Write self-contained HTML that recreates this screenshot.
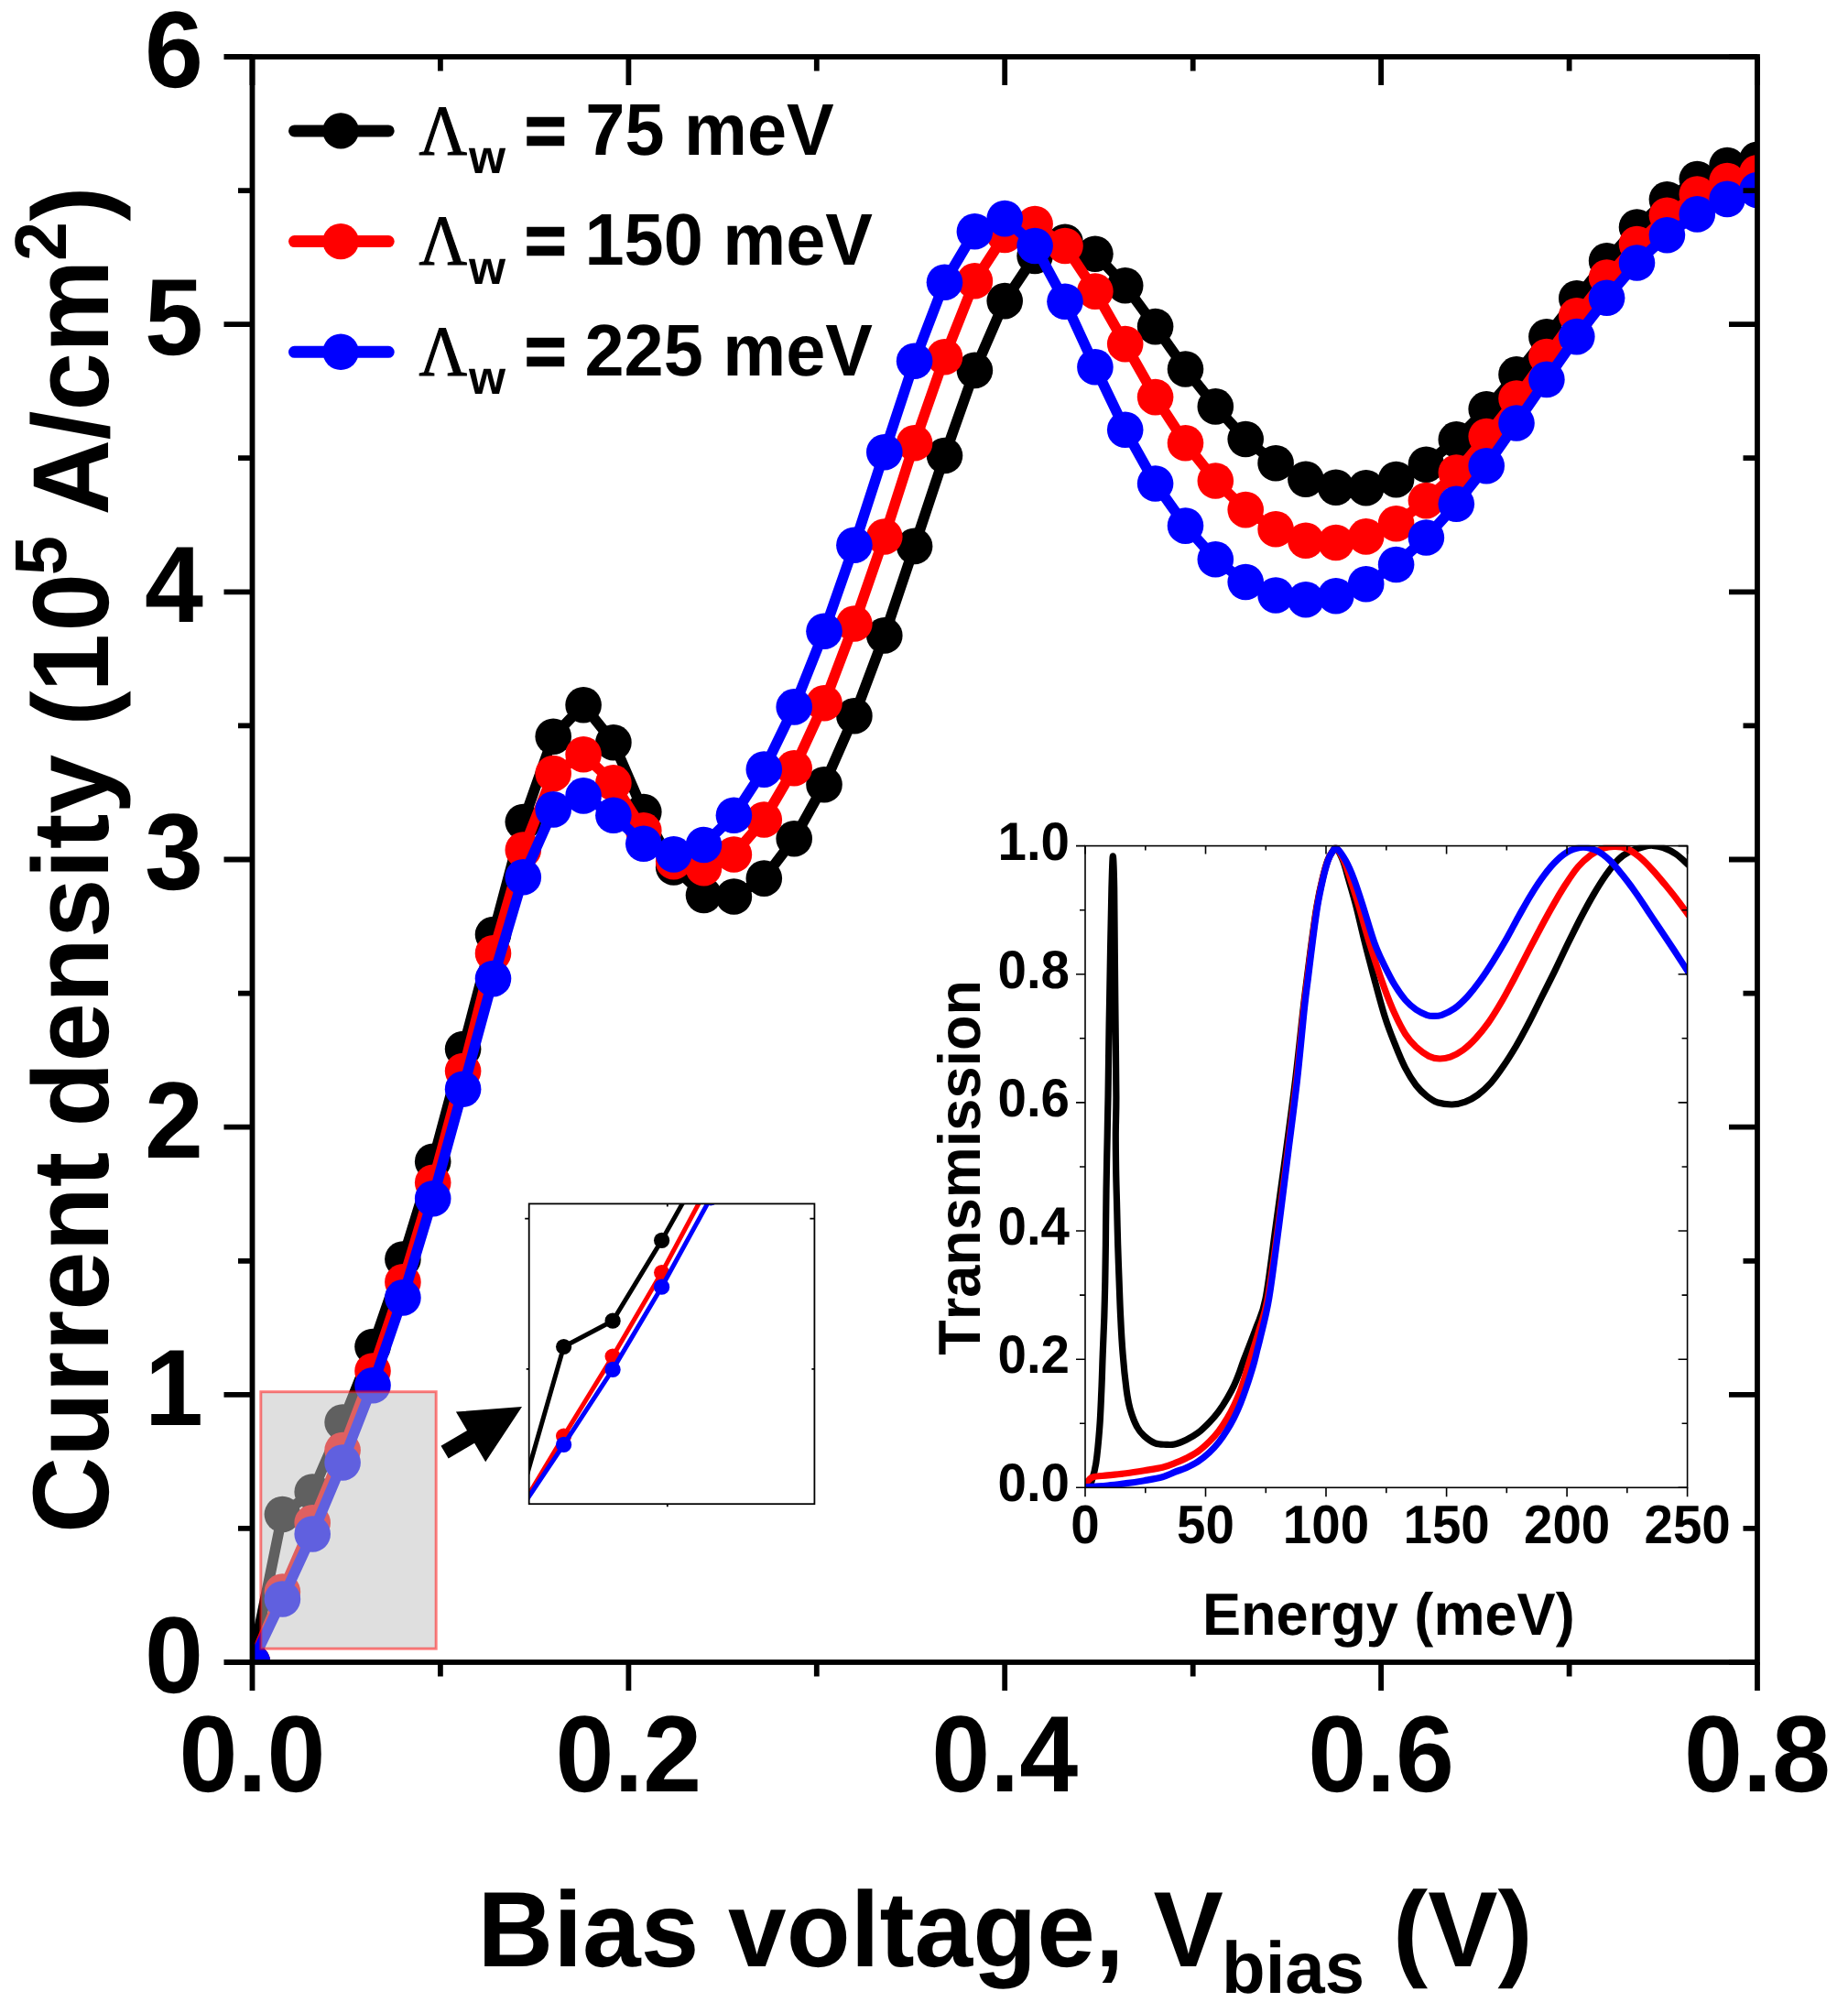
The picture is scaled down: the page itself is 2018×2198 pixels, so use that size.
<!DOCTYPE html>
<html lang="en"><head><meta charset="utf-8"><title>Current density vs bias voltage</title>
<style>html,body{margin:0;padding:0;background:#fff}svg{display:block}text{font-family:'Liberation Sans', Arial, Helvetica, sans-serif;font-weight:bold;fill:#000;font-kerning:none;text-rendering:geometricPrecision}</style>
</head><body>
<svg width="2018" height="2198" viewBox="0 0 2018 2198">
<rect width="2018" height="2198" fill="#fff"/>
<defs>
<clipPath id="cm"><rect x="275.5" y="62" width="1643.5" height="1753"/></clipPath>
<clipPath id="cs"><rect x="577.7" y="1314.4" width="311.7" height="327.8"/></clipPath>
<clipPath id="ci"><rect x="1185" y="922.8" width="657.6" height="701.5"/></clipPath>
</defs>
<g clip-path="url(#cm)">
<polyline points="275.5,1815 308.4,1653.5 341.2,1629 374.1,1553 407,1470.5 439.9,1375 472.7,1268.3 505.6,1145.5 538.5,1020.5 571.3,897.5 604.2,804.2 637.1,769.8 669.9,810.7 702.8,886.6 735.7,946.9 768.5,977.5 801.4,979 834.3,959.1 867.2,915.7 900,856.7 932.9,781.7 965.8,693.9 998.6,596.4 1031.5,497.5 1064.4,404.4 1097.2,328.6 1130.1,279.5 1163,264.2 1195.9,277.3 1228.7,311.8 1261.6,356.6 1294.5,403 1327.3,443.9 1360.2,479.5 1393.1,505.7 1425.9,523.2 1458.8,532.3 1491.7,532.8 1524.6,523.6 1557.4,507.2 1590.3,479.9 1623.2,446.7 1656,408.9 1688.9,367.7 1721.8,325.7 1754.6,284.8 1787.5,248 1820.4,217.8 1853.3,195.5 1886.1,180.6 1919,174.2" fill="none" stroke="#000000" stroke-width="11.5" stroke-linejoin="round"/>
<g fill="#000000">
<circle cx="275.5" cy="1815" r="19.8"/>
<circle cx="308.4" cy="1653.5" r="19.8"/>
<circle cx="341.2" cy="1629" r="19.8"/>
<circle cx="374.1" cy="1553" r="19.8"/>
<circle cx="407" cy="1470.5" r="19.8"/>
<circle cx="439.9" cy="1375" r="19.8"/>
<circle cx="472.7" cy="1268.3" r="19.8"/>
<circle cx="505.6" cy="1145.5" r="19.8"/>
<circle cx="538.5" cy="1020.5" r="19.8"/>
<circle cx="571.3" cy="897.5" r="19.8"/>
<circle cx="604.2" cy="804.2" r="19.8"/>
<circle cx="637.1" cy="769.8" r="19.8"/>
<circle cx="669.9" cy="810.7" r="19.8"/>
<circle cx="702.8" cy="886.6" r="19.8"/>
<circle cx="735.7" cy="946.9" r="19.8"/>
<circle cx="768.5" cy="977.5" r="19.8"/>
<circle cx="801.4" cy="979" r="19.8"/>
<circle cx="834.3" cy="959.1" r="19.8"/>
<circle cx="867.2" cy="915.7" r="19.8"/>
<circle cx="900" cy="856.7" r="19.8"/>
<circle cx="932.9" cy="781.7" r="19.8"/>
<circle cx="965.8" cy="693.9" r="19.8"/>
<circle cx="998.6" cy="596.4" r="19.8"/>
<circle cx="1031.5" cy="497.5" r="19.8"/>
<circle cx="1064.4" cy="404.4" r="19.8"/>
<circle cx="1097.2" cy="328.6" r="19.8"/>
<circle cx="1130.1" cy="279.5" r="19.8"/>
<circle cx="1163" cy="264.2" r="19.8"/>
<circle cx="1195.9" cy="277.3" r="19.8"/>
<circle cx="1228.7" cy="311.8" r="19.8"/>
<circle cx="1261.6" cy="356.6" r="19.8"/>
<circle cx="1294.5" cy="403" r="19.8"/>
<circle cx="1327.3" cy="443.9" r="19.8"/>
<circle cx="1360.2" cy="479.5" r="19.8"/>
<circle cx="1393.1" cy="505.7" r="19.8"/>
<circle cx="1425.9" cy="523.2" r="19.8"/>
<circle cx="1458.8" cy="532.3" r="19.8"/>
<circle cx="1491.7" cy="532.8" r="19.8"/>
<circle cx="1524.6" cy="523.6" r="19.8"/>
<circle cx="1557.4" cy="507.2" r="19.8"/>
<circle cx="1590.3" cy="479.9" r="19.8"/>
<circle cx="1623.2" cy="446.7" r="19.8"/>
<circle cx="1656" cy="408.9" r="19.8"/>
<circle cx="1688.9" cy="367.7" r="19.8"/>
<circle cx="1721.8" cy="325.7" r="19.8"/>
<circle cx="1754.6" cy="284.8" r="19.8"/>
<circle cx="1787.5" cy="248" r="19.8"/>
<circle cx="1820.4" cy="217.8" r="19.8"/>
<circle cx="1853.3" cy="195.5" r="19.8"/>
<circle cx="1886.1" cy="180.6" r="19.8"/>
<circle cx="1919" cy="174.2" r="19.8"/>
</g>
<polyline points="275.5,1815 308.4,1738 341.2,1662.7 374.1,1583.5 407,1497 439.9,1399.9 472.7,1291.3 505.6,1169.5 538.5,1040.9 571.3,928.1 604.2,844.6 637.1,823.8 669.9,854.9 702.8,906.9 735.7,940.8 768.5,947.8 801.4,933 834.3,895 867.2,838.8 900,767.7 932.9,681 965.8,586 998.6,483.8 1031.5,389.8 1064.4,306.8 1097.2,256.5 1130.1,244.5 1163,268.5 1195.9,318.1 1228.7,375.6 1261.6,433.6 1294.5,483.8 1327.3,525 1360.2,556.6 1393.1,577.8 1425.9,590.3 1458.8,592.5 1491.7,585.9 1524.6,571.7 1557.4,546.6 1590.3,516 1623.2,476.6 1656,435.1 1688.9,389.5 1721.8,344.7 1754.6,303 1787.5,266.6 1820.4,235.2 1853.3,212 1886.1,197.5 1919,188.7" fill="none" stroke="#ff0000" stroke-width="11.5" stroke-linejoin="round"/>
<g fill="#ff0000">
<circle cx="275.5" cy="1815" r="19.8"/>
<circle cx="308.4" cy="1738" r="19.8"/>
<circle cx="341.2" cy="1662.7" r="19.8"/>
<circle cx="374.1" cy="1583.5" r="19.8"/>
<circle cx="407" cy="1497" r="19.8"/>
<circle cx="439.9" cy="1399.9" r="19.8"/>
<circle cx="472.7" cy="1291.3" r="19.8"/>
<circle cx="505.6" cy="1169.5" r="19.8"/>
<circle cx="538.5" cy="1040.9" r="19.8"/>
<circle cx="571.3" cy="928.1" r="19.8"/>
<circle cx="604.2" cy="844.6" r="19.8"/>
<circle cx="637.1" cy="823.8" r="19.8"/>
<circle cx="669.9" cy="854.9" r="19.8"/>
<circle cx="702.8" cy="906.9" r="19.8"/>
<circle cx="735.7" cy="940.8" r="19.8"/>
<circle cx="768.5" cy="947.8" r="19.8"/>
<circle cx="801.4" cy="933" r="19.8"/>
<circle cx="834.3" cy="895" r="19.8"/>
<circle cx="867.2" cy="838.8" r="19.8"/>
<circle cx="900" cy="767.7" r="19.8"/>
<circle cx="932.9" cy="681" r="19.8"/>
<circle cx="965.8" cy="586" r="19.8"/>
<circle cx="998.6" cy="483.8" r="19.8"/>
<circle cx="1031.5" cy="389.8" r="19.8"/>
<circle cx="1064.4" cy="306.8" r="19.8"/>
<circle cx="1097.2" cy="256.5" r="19.8"/>
<circle cx="1130.1" cy="244.5" r="19.8"/>
<circle cx="1163" cy="268.5" r="19.8"/>
<circle cx="1195.9" cy="318.1" r="19.8"/>
<circle cx="1228.7" cy="375.6" r="19.8"/>
<circle cx="1261.6" cy="433.6" r="19.8"/>
<circle cx="1294.5" cy="483.8" r="19.8"/>
<circle cx="1327.3" cy="525" r="19.8"/>
<circle cx="1360.2" cy="556.6" r="19.8"/>
<circle cx="1393.1" cy="577.8" r="19.8"/>
<circle cx="1425.9" cy="590.3" r="19.8"/>
<circle cx="1458.8" cy="592.5" r="19.8"/>
<circle cx="1491.7" cy="585.9" r="19.8"/>
<circle cx="1524.6" cy="571.7" r="19.8"/>
<circle cx="1557.4" cy="546.6" r="19.8"/>
<circle cx="1590.3" cy="516" r="19.8"/>
<circle cx="1623.2" cy="476.6" r="19.8"/>
<circle cx="1656" cy="435.1" r="19.8"/>
<circle cx="1688.9" cy="389.5" r="19.8"/>
<circle cx="1721.8" cy="344.7" r="19.8"/>
<circle cx="1754.6" cy="303" r="19.8"/>
<circle cx="1787.5" cy="266.6" r="19.8"/>
<circle cx="1820.4" cy="235.2" r="19.8"/>
<circle cx="1853.3" cy="212" r="19.8"/>
<circle cx="1886.1" cy="197.5" r="19.8"/>
<circle cx="1919" cy="188.7" r="19.8"/>
</g>
<polyline points="275.5,1815 308.4,1746 341.2,1675 374.1,1597 407,1512.7 439.9,1416.9 472.7,1308.7 505.6,1189.2 538.5,1068.6 571.3,957.8 604.2,883.9 637.1,868.9 669.9,890.3 702.8,921.3 735.7,932.9 768.5,922.5 801.4,890.3 834.3,840.1 867.2,771.9 900,689.3 932.9,595.3 965.8,493.7 998.6,394.2 1031.5,308.3 1064.4,252.8 1097.2,238.6 1130.1,268.5 1163,329.3 1195.9,400.8 1228.7,469.3 1261.6,528 1294.5,574.1 1327.3,610.8 1360.2,635.5 1393.1,650 1425.9,654.8 1458.8,650.8 1491.7,637.7 1524.6,616.5 1557.4,587 1590.3,550.3 1623.2,508.7 1656,462 1688.9,414.4 1721.8,367.6 1754.6,325.3 1787.5,287 1820.4,256.7 1853.3,233.9 1886.1,217.4 1919,207.5" fill="none" stroke="#0000ff" stroke-width="11.5" stroke-linejoin="round"/>
<g fill="#0000ff">
<circle cx="275.5" cy="1815" r="19.8"/>
<circle cx="308.4" cy="1746" r="19.8"/>
<circle cx="341.2" cy="1675" r="19.8"/>
<circle cx="374.1" cy="1597" r="19.8"/>
<circle cx="407" cy="1512.7" r="19.8"/>
<circle cx="439.9" cy="1416.9" r="19.8"/>
<circle cx="472.7" cy="1308.7" r="19.8"/>
<circle cx="505.6" cy="1189.2" r="19.8"/>
<circle cx="538.5" cy="1068.6" r="19.8"/>
<circle cx="571.3" cy="957.8" r="19.8"/>
<circle cx="604.2" cy="883.9" r="19.8"/>
<circle cx="637.1" cy="868.9" r="19.8"/>
<circle cx="669.9" cy="890.3" r="19.8"/>
<circle cx="702.8" cy="921.3" r="19.8"/>
<circle cx="735.7" cy="932.9" r="19.8"/>
<circle cx="768.5" cy="922.5" r="19.8"/>
<circle cx="801.4" cy="890.3" r="19.8"/>
<circle cx="834.3" cy="840.1" r="19.8"/>
<circle cx="867.2" cy="771.9" r="19.8"/>
<circle cx="900" cy="689.3" r="19.8"/>
<circle cx="932.9" cy="595.3" r="19.8"/>
<circle cx="965.8" cy="493.7" r="19.8"/>
<circle cx="998.6" cy="394.2" r="19.8"/>
<circle cx="1031.5" cy="308.3" r="19.8"/>
<circle cx="1064.4" cy="252.8" r="19.8"/>
<circle cx="1097.2" cy="238.6" r="19.8"/>
<circle cx="1130.1" cy="268.5" r="19.8"/>
<circle cx="1163" cy="329.3" r="19.8"/>
<circle cx="1195.9" cy="400.8" r="19.8"/>
<circle cx="1228.7" cy="469.3" r="19.8"/>
<circle cx="1261.6" cy="528" r="19.8"/>
<circle cx="1294.5" cy="574.1" r="19.8"/>
<circle cx="1327.3" cy="610.8" r="19.8"/>
<circle cx="1360.2" cy="635.5" r="19.8"/>
<circle cx="1393.1" cy="650" r="19.8"/>
<circle cx="1425.9" cy="654.8" r="19.8"/>
<circle cx="1458.8" cy="650.8" r="19.8"/>
<circle cx="1491.7" cy="637.7" r="19.8"/>
<circle cx="1524.6" cy="616.5" r="19.8"/>
<circle cx="1557.4" cy="587" r="19.8"/>
<circle cx="1590.3" cy="550.3" r="19.8"/>
<circle cx="1623.2" cy="508.7" r="19.8"/>
<circle cx="1656" cy="462" r="19.8"/>
<circle cx="1688.9" cy="414.4" r="19.8"/>
<circle cx="1721.8" cy="367.6" r="19.8"/>
<circle cx="1754.6" cy="325.3" r="19.8"/>
<circle cx="1787.5" cy="287" r="19.8"/>
<circle cx="1820.4" cy="256.7" r="19.8"/>
<circle cx="1853.3" cy="233.9" r="19.8"/>
<circle cx="1886.1" cy="217.4" r="19.8"/>
<circle cx="1919" cy="207.5" r="19.8"/>
</g>
</g>
<rect x="284.8" y="1519.7" width="191.4" height="280.5" fill="rgba(192,192,192,0.5)" stroke="rgba(255,0,0,0.5)" stroke-width="3"/>
<g stroke="#000" stroke-width="5.8" fill="none" stroke-linecap="butt">
<rect x="275.5" y="62" width="1643.5" height="1753"/>
<path d="M275.5 1815 v31 M275.5 62 v31 M480.9 1815 v15.5 M480.9 62 v15.5 M686.4 1815 v31 M686.4 62 v31 M891.8 1815 v15.5 M891.8 62 v15.5 M1097.2 1815 v31 M1097.2 62 v31 M1302.7 1815 v15.5 M1302.7 62 v15.5 M1508.1 1815 v31 M1508.1 62 v31 M1713.6 1815 v15.5 M1713.6 62 v15.5 M1919 1815 v31 M1919 62 v31 M275.5 1815 h-31 M1919 1815 h-31 M275.5 1668.9 h-15.5 M1919 1668.9 h-15.5 M275.5 1522.8 h-31 M1919 1522.8 h-31 M275.5 1376.8 h-15.5 M1919 1376.8 h-15.5 M275.5 1230.7 h-31 M1919 1230.7 h-31 M275.5 1084.6 h-15.5 M1919 1084.6 h-15.5 M275.5 938.5 h-31 M1919 938.5 h-31 M275.5 792.4 h-15.5 M1919 792.4 h-15.5 M275.5 646.3 h-31 M1919 646.3 h-31 M275.5 500.2 h-15.5 M1919 500.2 h-15.5 M275.5 354.2 h-31 M1919 354.2 h-31 M275.5 208.1 h-15.5 M1919 208.1 h-15.5 M275.5 62 h-31 M1919 62 h-31"/>
</g>
<polygon points="489.7,1592.6 518.1,1575.8 530.2,1596.3 570,1535.9 497.9,1541.6 510,1562 481.5,1578.8" fill="#000"/>
<g clip-path="url(#cs)">
<polyline points="562.1,1657.1 615.6,1470.5 669.1,1442.2 722.6,1354.4 776.1,1259.1 829.6,1148.7" fill="none" stroke="#000000" stroke-width="5" stroke-linejoin="round"/>
<circle cx="615.6" cy="1470.5" r="8.6" fill="#000000"/>
<circle cx="669.1" cy="1442.2" r="8.6" fill="#000000"/>
<circle cx="722.6" cy="1354.4" r="8.6" fill="#000000"/>
<circle cx="776.1" cy="1259.1" r="8.6" fill="#000000"/>
<polyline points="562.1,1657.1 615.6,1568.1 669.1,1481.1 722.6,1389.6 776.1,1289.7 829.6,1177.5" fill="none" stroke="#ff0000" stroke-width="5" stroke-linejoin="round"/>
<circle cx="615.6" cy="1568.1" r="8.6" fill="#ff0000"/>
<circle cx="669.1" cy="1481.1" r="8.6" fill="#ff0000"/>
<circle cx="722.6" cy="1389.6" r="8.6" fill="#ff0000"/>
<circle cx="776.1" cy="1289.7" r="8.6" fill="#ff0000"/>
<polyline points="562.1,1657.1 615.6,1577.4 669.1,1495.4 722.6,1405.2 776.1,1307.8 829.6,1197.1" fill="none" stroke="#0000ff" stroke-width="5" stroke-linejoin="round"/>
<circle cx="615.6" cy="1577.4" r="8.6" fill="#0000ff"/>
<circle cx="669.1" cy="1495.4" r="8.6" fill="#0000ff"/>
<circle cx="722.6" cy="1405.2" r="8.6" fill="#0000ff"/>
<circle cx="776.1" cy="1307.8" r="8.6" fill="#0000ff"/>
</g>
<g stroke="#000" stroke-width="1.8" fill="none">
<rect x="577.7" y="1314.4" width="311.7" height="327.8"/>
<path d="M577.7 1330.6h-4.5 M577.7 1494.9h-3 M889.4 1330.6h-5 M889.4 1494.9h-3 M728.8 1642.2v3 M728.8 1314.4v3"/>
</g>
<g clip-path="url(#ci)" fill="none" stroke-width="7.2" stroke-linejoin="round" stroke-linecap="round">
<path d="M1184.9 1624C1185.6 1623.7 1187.7 1623.1 1188.9 1622C1190 1621 1190.5 1621.7 1191.9 1617.7C1193.2 1613.6 1195.3 1607.7 1196.8 1597.8C1198.3 1587.8 1199.8 1571.3 1200.8 1558C1201.8 1544.8 1202.2 1531.5 1202.8 1518.3C1203.4 1505 1203.7 1491.8 1204.2 1478.5C1204.7 1465.3 1205.3 1452 1205.8 1438.8C1206.2 1425.5 1206.5 1412.3 1206.8 1399C1207 1385.8 1207.2 1372.5 1207.4 1359.3C1207.5 1346 1207.6 1332.8 1207.8 1319.5C1207.9 1306.3 1208.1 1293 1208.4 1279.8C1208.6 1266.5 1208.9 1253.6 1209.2 1240C1209.4 1226.4 1209.6 1218.4 1210 1198.2C1210.3 1177.9 1210.7 1145.1 1211.1 1118.6C1211.6 1092.1 1212.1 1064 1212.5 1039.1C1213 1014.3 1213.5 987 1213.9 969.6C1214.4 952.2 1214.9 934.8 1215.3 934.8C1215.8 934.8 1216.4 952.2 1216.7 969.6C1217 987 1217.1 1014.3 1217.3 1039.1C1217.5 1064 1217.8 1092.1 1218.1 1118.6C1218.4 1145.1 1218.9 1177.9 1218.9 1198.2C1218.9 1218.4 1218.3 1226.4 1218.3 1240C1218.3 1253.6 1218.5 1266.5 1218.7 1279.8C1218.9 1293 1219.4 1306.3 1219.7 1319.5C1220 1332.8 1220.3 1346 1220.7 1359.3C1221.1 1372.5 1221.6 1385.8 1222.1 1399C1222.6 1412.3 1223 1425.5 1223.7 1438.8C1224.3 1452 1225 1465.3 1226.1 1478.5C1227.1 1491.8 1228.9 1508.3 1230.2 1518.3C1231.6 1528.2 1232.1 1531.5 1234 1538.2C1235.9 1544.8 1239 1553.1 1241.6 1558C1244.1 1563 1246.2 1565 1249.5 1568C1252.8 1570.9 1257.5 1574.4 1261.4 1575.9C1265.4 1577.5 1269.8 1577.1 1273.4 1577.3C1276.9 1577.5 1279 1577.8 1282.7 1577C1286.4 1576.2 1291.1 1574.3 1295.3 1572.3C1299.5 1570.2 1303.8 1567.9 1308 1564.7C1312.2 1561.5 1316.9 1556.8 1320.7 1552.9C1324.5 1549 1327.6 1545.5 1330.8 1541.1C1334 1536.7 1337.3 1531.5 1340.1 1526.7C1342.9 1521.9 1345.5 1517.2 1347.7 1512.4C1350 1507.6 1351.8 1502.8 1353.6 1498C1355.4 1493.2 1355.7 1491.6 1358.7 1483.6C1361.7 1475.6 1367.7 1460.9 1371.6 1450C1375.5 1439.1 1378.4 1436.6 1382 1418C1385.6 1399.4 1389.5 1365 1393.2 1338.5C1396.9 1312 1400.5 1285.5 1404.1 1259C1407.6 1232.5 1411.3 1206 1414.5 1179.5C1417.7 1153 1421.2 1118.4 1423.3 1100C1425.4 1081.6 1425.6 1080.8 1427.1 1069C1428.6 1057.2 1430.4 1042.5 1432.2 1029.2C1434 1016 1435.9 1001.1 1437.9 989.5C1439.9 977.9 1442.1 968 1444.1 959.7C1446.1 951.4 1447.9 944.8 1449.7 939.8C1451.5 934.8 1453.3 932.1 1454.9 929.9C1456.5 927.7 1457.5 924.8 1459.4 926.4C1461.3 928 1464.3 934.2 1466.5 939.8C1468.7 945.3 1470.1 951.4 1472.5 959.7C1474.9 968 1477.9 977.9 1480.9 989.5C1483.9 1001.1 1487.1 1016 1490.4 1029.2C1493.7 1042.5 1497.2 1055.5 1500.8 1069C1504.4 1082.5 1508.5 1098.2 1512.2 1110C1515.9 1121.8 1519.3 1130.3 1523.1 1139.7C1526.8 1149.1 1530.8 1158.9 1534.7 1166.4C1538.6 1174 1542.5 1180 1546.3 1185C1550.2 1190.1 1554.1 1193.6 1558 1196.7C1561.9 1199.8 1565 1202.1 1569.6 1203.7C1574.3 1205.2 1580.9 1206.1 1585.9 1206C1590.9 1205.9 1595.2 1204.9 1599.9 1203.2C1604.5 1201.4 1609.2 1198.9 1613.8 1195.5C1618.5 1192.1 1623.1 1187.9 1627.8 1182.7C1632.4 1177.5 1637.1 1170.9 1641.7 1164.1C1646.4 1157.3 1651 1149.9 1655.7 1142C1660.4 1134 1665 1125.3 1669.7 1116.4C1674.3 1107.5 1679 1097.8 1683.6 1088.5C1688.3 1079.2 1692.9 1070.1 1697.6 1060.6C1702.2 1051 1706.9 1041 1711.5 1031.5C1716.2 1022 1720.9 1012.5 1725.5 1003.5C1730.2 994.6 1734.8 985.9 1739.5 977.9C1744.1 970 1748.8 962.4 1753.4 955.8C1758.1 949.3 1762.7 942.9 1767.4 938.4C1772 933.9 1776.7 931.4 1781.4 929.1C1786 926.8 1791.4 925.4 1795.3 924.4C1799.2 923.5 1801.1 923.1 1804.6 923.3C1808.1 923.5 1812 924 1816.3 925.6C1820.5 927.1 1825.6 929.4 1830.2 932.6C1834.9 935.8 1841.8 942.7 1844.2 944.7" stroke="#000"/>
<path d="M1184.9 1620.6C1185.6 1619.9 1187.4 1617.4 1188.9 1616.1C1190.4 1614.7 1190.4 1613.6 1193.9 1612.7C1197.3 1611.8 1203.8 1611.6 1209.8 1610.9C1215.7 1610.2 1223 1609.6 1229.6 1608.7C1236.3 1607.9 1242.9 1606.8 1249.5 1605.7C1256.1 1604.6 1263.9 1603.5 1269.4 1602.2C1274.9 1600.8 1278.4 1599.4 1282.7 1597.7C1287 1596 1291.1 1594.3 1295.3 1592.2C1299.5 1590.1 1303.8 1588 1308 1585C1312.2 1582 1316.9 1577.7 1320.7 1574C1324.5 1570.3 1327.6 1566.8 1330.8 1562.6C1334 1558.4 1337.3 1553.4 1340.1 1548.7C1342.9 1544 1345.3 1539.4 1347.7 1534.3C1350.1 1529.2 1352.5 1523.5 1354.5 1518.3C1356.5 1513.1 1358 1508 1359.5 1503.1C1361 1498.2 1361.2 1497 1363.8 1488.7C1366.3 1480.4 1371.4 1464.8 1374.8 1453C1378.2 1441.2 1380.8 1437.1 1384.3 1418C1387.8 1398.9 1392.2 1365 1395.8 1338.5C1399.4 1312 1402.6 1285.5 1405.9 1259C1409.2 1232.5 1412.8 1206 1415.8 1179.5C1418.8 1153 1421.8 1118.4 1423.8 1100C1425.8 1081.6 1426.1 1080.8 1427.6 1069C1429.1 1057.2 1430.8 1042.5 1432.6 1029.2C1434.4 1016 1436.2 1001.1 1438.2 989.5C1440.2 977.9 1442.3 968 1444.3 959.7C1446.2 951.4 1448.1 944.8 1449.9 939.8C1451.7 934.8 1453.4 932.1 1455 929.9C1456.6 927.7 1457.4 924.8 1459.5 926.4C1461.6 928 1465 934.2 1467.5 939.8C1470 945.3 1471.8 951.4 1474.5 959.7C1477.2 968 1480.4 977.9 1483.9 989.5C1487.4 1001.1 1490.7 1014.4 1495.3 1029.2C1499.9 1044 1506.8 1065 1511.4 1078C1516.1 1091 1519.2 1098.6 1523.1 1107.1C1527 1115.6 1530.8 1123.2 1534.7 1129.2C1538.6 1135.2 1542.1 1139.2 1546.3 1143.2C1550.6 1147.1 1556 1151 1560.3 1153.2C1564.6 1155.3 1568.1 1155.8 1571.9 1156C1575.8 1156.1 1579.3 1155.6 1583.6 1154.1C1587.8 1152.5 1592.9 1150 1597.5 1146.6C1602.2 1143.3 1606.8 1138.9 1611.5 1133.8C1616.1 1128.8 1620.8 1123 1625.5 1116.4C1630.1 1109.8 1634.8 1102.2 1639.4 1094.3C1644.1 1086.3 1648.7 1077.4 1653.4 1068.7C1658 1060 1662.7 1050.9 1667.3 1041.9C1672 1033 1676.6 1023.9 1681.3 1015.2C1686 1006.5 1690.6 997.7 1695.3 989.6C1699.9 981.4 1704.6 973.5 1709.2 966.3C1713.9 959.1 1718.5 952 1723.2 946.5C1727.8 941.1 1732.5 937.2 1737.1 933.7C1741.8 930.3 1746.6 927.6 1751.1 926.1C1755.6 924.5 1759.6 924.3 1763.9 924.4C1768.2 924.5 1772.2 924.8 1776.7 926.8C1781.2 928.7 1786 932.2 1790.7 936.1C1795.3 939.9 1800 945 1804.6 950C1809.3 955.1 1813.9 960.7 1818.6 966.3C1823.2 971.9 1828.3 978.2 1832.5 983.8C1836.8 989.3 1842.2 997 1844.2 999.6" stroke="#f00"/>
<path d="M1184.9 1623.6C1189 1623.4 1202.3 1622.7 1209.8 1622C1217.2 1621.4 1223 1620.5 1229.6 1619.6C1236.3 1618.8 1242.9 1617.8 1249.5 1616.7C1256.1 1615.5 1263.9 1614.2 1269.4 1612.7C1274.9 1611.1 1278.4 1609.1 1282.7 1607.4C1287 1605.7 1291.1 1604.6 1295.3 1602.7C1299.5 1600.8 1303.8 1598.8 1308 1596C1312.2 1593.2 1316.9 1589.3 1320.7 1585.8C1324.5 1582.3 1327.6 1579 1330.8 1574.9C1334 1570.8 1337.3 1565.9 1340.1 1561.4C1342.9 1556.9 1345.3 1552.6 1347.7 1547.8C1350.1 1543 1352.4 1537.8 1354.5 1532.6C1356.6 1527.4 1358.6 1521.8 1360.4 1516.6C1362.2 1511.4 1363.9 1506.3 1365.4 1501.4C1367 1496.5 1368.4 1491.7 1369.7 1487C1371 1482.3 1371.9 1478 1373 1473.5C1374.1 1469 1374.3 1469.2 1376.4 1460C1378.5 1450.8 1382.3 1438.2 1385.7 1418C1389.1 1397.8 1393.1 1365 1396.6 1338.5C1400.1 1312 1403.3 1285.5 1406.6 1259C1409.9 1232.5 1413.5 1206 1416.5 1179.5C1419.5 1153 1422.5 1118.4 1424.5 1100C1426.5 1081.6 1426.8 1080.8 1428.3 1069C1429.8 1057.2 1431.5 1042.5 1433.2 1029.2C1434.9 1016 1436.8 1001.1 1438.7 989.5C1440.6 977.9 1442.8 968 1444.7 959.7C1446.6 951.4 1448.4 944.8 1450.1 939.8C1451.8 934.8 1453.5 932.1 1455.1 929.9C1456.7 927.7 1457.2 924.8 1459.6 926.4C1462 928 1466.4 934.2 1469.5 939.8C1472.6 945.3 1475.2 951.4 1478.4 959.7C1481.6 968 1484.7 977.9 1488.4 989.5C1492.1 1001.1 1497 1018.5 1500.8 1029.2C1504.6 1039.9 1507.7 1045.8 1511.4 1053.6C1515.2 1061.3 1519.2 1069.3 1523.1 1075.7C1527 1082.1 1530.8 1087.5 1534.7 1092C1538.6 1096.4 1542.5 1099.7 1546.3 1102.4C1550.2 1105.1 1554.9 1107.1 1558 1108.3C1561.1 1109.4 1562.2 1109.4 1565 1109.4C1567.7 1109.4 1570.4 1109.6 1574.3 1108.3C1578.1 1106.9 1583.6 1104.6 1588.2 1101.3C1592.9 1098 1597.5 1093.5 1602.2 1088.5C1606.8 1083.4 1611.5 1077.4 1616.1 1071C1620.8 1064.6 1625.5 1057.4 1630.1 1050.1C1634.8 1042.7 1639.4 1035 1644.1 1026.8C1648.7 1018.7 1653.4 1009.6 1658 1001.2C1662.7 992.9 1667.3 984.3 1672 976.8C1676.6 969.2 1681.3 962 1686 955.8C1690.6 949.6 1695.3 944 1699.9 939.6C1704.6 935.1 1709 931.5 1713.9 929.1C1718.7 926.7 1724 925.1 1729 925.1C1734 925.1 1739.3 926.7 1744.1 929.1C1749 931.5 1753.4 935.1 1758.1 939.6C1762.7 944 1767.4 950 1772 955.8C1776.7 961.7 1781.4 967.9 1786 974.5C1790.7 981.1 1795.3 988.4 1800 995.4C1804.6 1002.4 1809.3 1009.4 1813.9 1016.3C1818.6 1023.3 1822.8 1029.6 1827.9 1037.3C1832.9 1045 1841.5 1058.2 1844.2 1062.4" stroke="#00f"/>
</g>
<g stroke="#000" stroke-width="1.6" fill="none">
<rect x="1185" y="923.6" width="657.6" height="700.7"/>
<path d="M1185 1624.3 v10 M1185 923.6 v9 M1250.8 1624.3 v6 M1250.8 923.6 v5 M1316.5 1624.3 v10 M1316.5 923.6 v9 M1382.3 1624.3 v6 M1382.3 923.6 v5 M1448 1624.3 v10 M1448 923.6 v9 M1513.8 1624.3 v6 M1513.8 923.6 v5 M1579.6 1624.3 v10 M1579.6 923.6 v9 M1645.3 1624.3 v6 M1645.3 923.6 v5 M1711.1 1624.3 v10 M1711.1 923.6 v9 M1776.8 1624.3 v6 M1776.8 923.6 v5 M1842.6 1624.3 v10 M1842.6 923.6 v9 M1185 1624.3 h-10 M1842.6 1624.3 h-10 M1185 1554.2 h-6 M1842.6 1554.2 h-6 M1185 1484.2 h-10 M1842.6 1484.2 h-10 M1185 1414.1 h-6 M1842.6 1414.1 h-6 M1185 1344 h-10 M1842.6 1344 h-10 M1185 1274 h-6 M1842.6 1274 h-6 M1185 1203.9 h-10 M1842.6 1203.9 h-10 M1185 1133.8 h-6 M1842.6 1133.8 h-6 M1185 1063.7 h-10 M1842.6 1063.7 h-10 M1185 993.7 h-6 M1842.6 993.7 h-6 M1185 923.6 h-10 M1842.6 923.6 h-10"/>
</g>
<line x1="321.5" y1="142.9" x2="424.2" y2="142.9" stroke="#000000" stroke-width="13" stroke-linecap="round"/>
<circle cx="372.1" cy="142.9" r="19.7" fill="#000000"/>
<text transform="translate(457.6,168.5) scale(0.93,1)" font-size="78" stroke="#000" stroke-width="1.2" style="font-family:'Liberation Serif', 'Times New Roman', serif;font-weight:normal">&#923;</text>
<text x="512" y="188.9" font-size="51.5">w</text>
<text x="573.3" y="168.5" font-size="77" stroke="#000" stroke-width="2.4">=</text>
<text transform="translate(639.3,168.5) scale(1,1.03)" font-size="77.5">75 meV</text>
<line x1="321.5" y1="263.6" x2="424.2" y2="263.6" stroke="#ff0000" stroke-width="13" stroke-linecap="round"/>
<circle cx="372.1" cy="263.6" r="19.7" fill="#ff0000"/>
<text transform="translate(457.6,289.2) scale(0.93,1)" font-size="78" stroke="#000" stroke-width="1.2" style="font-family:'Liberation Serif', 'Times New Roman', serif;font-weight:normal">&#923;</text>
<text x="512" y="309.6" font-size="51.5">w</text>
<text x="573.3" y="289.2" font-size="77" stroke="#000" stroke-width="2.4">=</text>
<text transform="translate(638.5,289.2) scale(1,1.03)" font-size="77.5">150 meV</text>
<line x1="321.5" y1="384.3" x2="424.2" y2="384.3" stroke="#0000ff" stroke-width="13" stroke-linecap="round"/>
<circle cx="372.1" cy="384.3" r="19.7" fill="#0000ff"/>
<text transform="translate(457.6,409.9) scale(0.93,1)" font-size="78" stroke="#000" stroke-width="1.2" style="font-family:'Liberation Serif', 'Times New Roman', serif;font-weight:normal">&#923;</text>
<text x="512" y="430.3" font-size="51.5">w</text>
<text x="573.3" y="409.9" font-size="77" stroke="#000" stroke-width="2.4">=</text>
<text transform="translate(638.5,409.9) scale(1,1.03)" font-size="77.5">225 meV</text>
<text transform="translate(275.5,1956) scale(1,1.03)" font-size="115" text-anchor="middle">0.0</text>
<text transform="translate(686.4,1956) scale(1,1.03)" font-size="115" text-anchor="middle">0.2</text>
<text transform="translate(1097.2,1956) scale(1,1.03)" font-size="115" text-anchor="middle">0.4</text>
<text transform="translate(1508.1,1956) scale(1,1.03)" font-size="115" text-anchor="middle">0.6</text>
<text transform="translate(1919,1956) scale(1,1.03)" font-size="115" text-anchor="middle">0.8</text>
<text transform="translate(222,1847.8) scale(1,1.03)" font-size="115" text-anchor="end">0</text>
<text transform="translate(222,1555.6) scale(1,1.03)" font-size="115" text-anchor="end">1</text>
<text transform="translate(222,1263.5) scale(1,1.03)" font-size="115" text-anchor="end">2</text>
<text transform="translate(222,971.3) scale(1,1.03)" font-size="115" text-anchor="end">3</text>
<text transform="translate(222,679.1) scale(1,1.03)" font-size="115" text-anchor="end">4</text>
<text transform="translate(222,387) scale(1,1.03)" font-size="115" text-anchor="end">5</text>
<text transform="translate(222,94.8) scale(1,1.03)" font-size="115" text-anchor="end">6</text>
<g transform="translate(529,2147.1) scale(1.013,1.035)" font-size="113">
<text x="-7.4" y="0">Bias voltage, V</text>
<text x="794.7" y="27.5" font-size="77">bias</text>
<text x="979.3" y="0">(V)</text>
</g>
<g transform="translate(117.5,1668.5) rotate(-90)" font-size="113">
<text transform="translate(-5.6,0) scale(1.0202,1.045)">Current</text>
<text transform="translate(438,0) scale(1.0277,1.045)">density</text>
<text transform="translate(876,0) scale(1.0097,1.045)">(</text>
<text transform="translate(913,0) scale(1.0097,1.045)">1</text>
<text transform="translate(979,0) scale(1.0097,1.045)">0</text>
<text transform="translate(1040.5,-46) scale(1.0097,1.045)" font-size="76.5">5</text>
<text transform="translate(1105.9,0) scale(1.0097,1.045)">A/cm</text>
<text transform="translate(1383.5,-46) scale(1.0097,1.045)" font-size="76.5">2</text>
<text transform="translate(1427,0) scale(1.0097,1.045)">)</text>
</g>
<text transform="translate(1185,1685.2) scale(1,1.05)" font-size="56.5" text-anchor="middle">0</text>
<text transform="translate(1316.5,1685.2) scale(1,1.05)" font-size="56.5" text-anchor="middle">50</text>
<text transform="translate(1448,1685.2) scale(1,1.05)" font-size="56.5" text-anchor="middle">100</text>
<text transform="translate(1579.6,1685.2) scale(1,1.05)" font-size="56.5" text-anchor="middle">150</text>
<text transform="translate(1711.1,1685.2) scale(1,1.05)" font-size="56.5" text-anchor="middle">200</text>
<text transform="translate(1842.6,1685.2) scale(1,1.05)" font-size="56.5" text-anchor="middle">250</text>
<text transform="translate(1168,1639.3) scale(1,1.04)" font-size="56.5" text-anchor="end">0.0</text>
<text transform="translate(1168,1499.2) scale(1,1.04)" font-size="56.5" text-anchor="end">0.2</text>
<text transform="translate(1168,1359) scale(1,1.04)" font-size="56.5" text-anchor="end">0.4</text>
<text transform="translate(1168,1218.9) scale(1,1.04)" font-size="56.5" text-anchor="end">0.6</text>
<text transform="translate(1168,1078.7) scale(1,1.04)" font-size="56.5" text-anchor="end">0.8</text>
<text transform="translate(1168,938.6) scale(1,1.04)" font-size="56.5" text-anchor="end">1.0</text>
<text transform="translate(1516.3,1785.2) scale(1,1.03)" font-size="63.1" text-anchor="middle">Energy (meV)</text>
<text transform="translate(1069.8,1274.9) rotate(-90) scale(1,1.03)" font-size="63.0" text-anchor="middle">Transmission</text>
</svg>
</body></html>
